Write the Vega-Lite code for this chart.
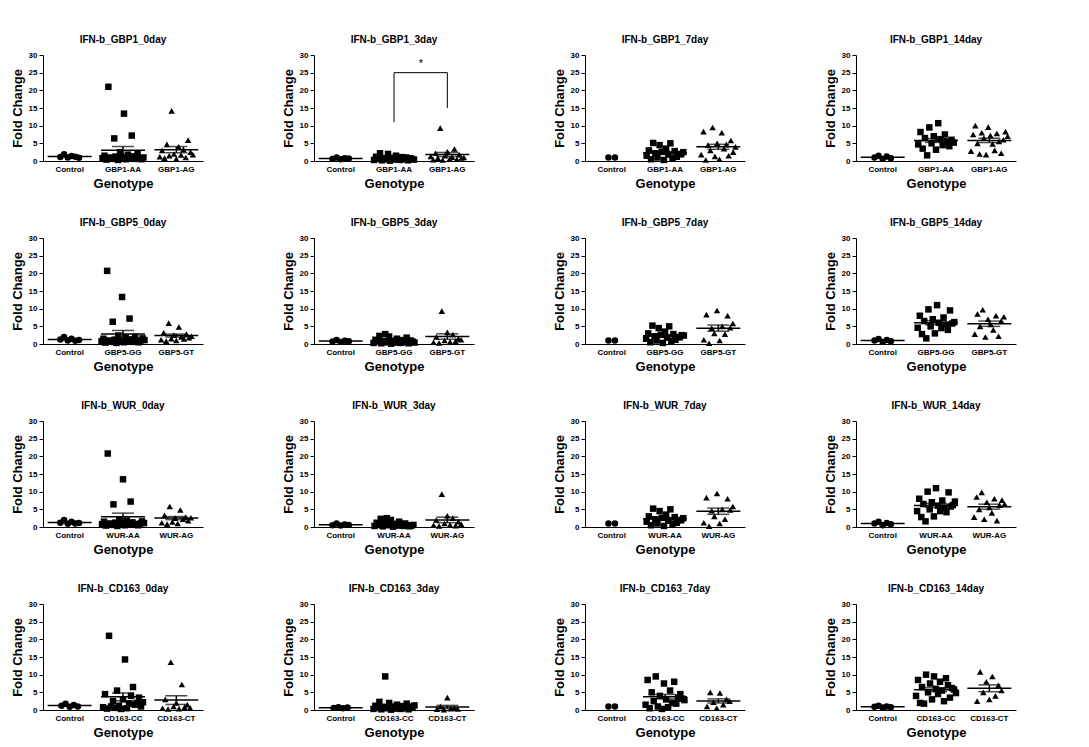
{
"$schema":"https://vega.github.io/schema/vega-lite/v6.json",
"background":"white",
"padding":{"left":11,"top":35,"right":5,"bottom":5},
"data":{"values":[
{"p":"IFN-b_GBP1_0day","g":"Control","o":0,"v":1.1},{"p":"IFN-b_GBP1_0day","g":"Control","o":0,"v":1.9},{"p":"IFN-b_GBP1_0day","g":"Control","o":0,"v":1.0},{"p":"IFN-b_GBP1_0day","g":"Control","o":0,"v":1.4},{"p":"IFN-b_GBP1_0day","g":"Control","o":0,"v":1.2},{"p":"IFN-b_GBP1_0day","g":"Control","o":0,"v":0.9},
{"p":"IFN-b_GBP1_0day","g":"GBP1-AA","o":1,"v":0.8},{"p":"IFN-b_GBP1_0day","g":"GBP1-AA","o":1,"v":1.5},{"p":"IFN-b_GBP1_0day","g":"GBP1-AA","o":1,"v":0.4},{"p":"IFN-b_GBP1_0day","g":"GBP1-AA","o":1,"v":21.0},{"p":"IFN-b_GBP1_0day","g":"GBP1-AA","o":1,"v":1.0},{"p":"IFN-b_GBP1_0day","g":"GBP1-AA","o":1,"v":0.6},{"p":"IFN-b_GBP1_0day","g":"GBP1-AA","o":1,"v":6.4},{"p":"IFN-b_GBP1_0day","g":"GBP1-AA","o":1,"v":1.2},{"p":"IFN-b_GBP1_0day","g":"GBP1-AA","o":1,"v":0.3},{"p":"IFN-b_GBP1_0day","g":"GBP1-AA","o":1,"v":2.5},{"p":"IFN-b_GBP1_0day","g":"GBP1-AA","o":1,"v":0.9},{"p":"IFN-b_GBP1_0day","g":"GBP1-AA","o":1,"v":13.4},{"p":"IFN-b_GBP1_0day","g":"GBP1-AA","o":1,"v":0.5},{"p":"IFN-b_GBP1_0day","g":"GBP1-AA","o":1,"v":1.8},{"p":"IFN-b_GBP1_0day","g":"GBP1-AA","o":1,"v":0.7},{"p":"IFN-b_GBP1_0day","g":"GBP1-AA","o":1,"v":7.2},{"p":"IFN-b_GBP1_0day","g":"GBP1-AA","o":1,"v":1.3},{"p":"IFN-b_GBP1_0day","g":"GBP1-AA","o":1,"v":0.6},{"p":"IFN-b_GBP1_0day","g":"GBP1-AA","o":1,"v":2.0},{"p":"IFN-b_GBP1_0day","g":"GBP1-AA","o":1,"v":0.8},{"p":"IFN-b_GBP1_0day","g":"GBP1-AA","o":1,"v":0.5},{"p":"IFN-b_GBP1_0day","g":"GBP1-AA","o":1,"v":1.0},
{"p":"IFN-b_GBP1_0day","g":"GBP1-AG","o":2,"v":1.2},{"p":"IFN-b_GBP1_0day","g":"GBP1-AG","o":2,"v":3.0},{"p":"IFN-b_GBP1_0day","g":"GBP1-AG","o":2,"v":0.8},{"p":"IFN-b_GBP1_0day","g":"GBP1-AG","o":2,"v":4.7},{"p":"IFN-b_GBP1_0day","g":"GBP1-AG","o":2,"v":1.5},{"p":"IFN-b_GBP1_0day","g":"GBP1-AG","o":2,"v":14.2},{"p":"IFN-b_GBP1_0day","g":"GBP1-AG","o":2,"v":2.0},{"p":"IFN-b_GBP1_0day","g":"GBP1-AG","o":2,"v":0.6},{"p":"IFN-b_GBP1_0day","g":"GBP1-AG","o":2,"v":4.0},{"p":"IFN-b_GBP1_0day","g":"GBP1-AG","o":2,"v":1.7},{"p":"IFN-b_GBP1_0day","g":"GBP1-AG","o":2,"v":3.3},{"p":"IFN-b_GBP1_0day","g":"GBP1-AG","o":2,"v":1.0},{"p":"IFN-b_GBP1_0day","g":"GBP1-AG","o":2,"v":5.9},{"p":"IFN-b_GBP1_0day","g":"GBP1-AG","o":2,"v":2.5},{"p":"IFN-b_GBP1_0day","g":"GBP1-AG","o":2,"v":1.8},

{"p":"IFN-b_GBP1_3day","g":"Control","o":0,"v":0.6},{"p":"IFN-b_GBP1_3day","g":"Control","o":0,"v":1.0},{"p":"IFN-b_GBP1_3day","g":"Control","o":0,"v":0.5},{"p":"IFN-b_GBP1_3day","g":"Control","o":0,"v":0.8},{"p":"IFN-b_GBP1_3day","g":"Control","o":0,"v":0.7},
{"p":"IFN-b_GBP1_3day","g":"GBP1-AA","o":1,"v":0.3},{"p":"IFN-b_GBP1_3day","g":"GBP1-AA","o":1,"v":1.2},{"p":"IFN-b_GBP1_3day","g":"GBP1-AA","o":1,"v":0.6},{"p":"IFN-b_GBP1_3day","g":"GBP1-AA","o":1,"v":2.2},{"p":"IFN-b_GBP1_3day","g":"GBP1-AA","o":1,"v":0.2},{"p":"IFN-b_GBP1_3day","g":"GBP1-AA","o":1,"v":0.8},{"p":"IFN-b_GBP1_3day","g":"GBP1-AA","o":1,"v":0.5},{"p":"IFN-b_GBP1_3day","g":"GBP1-AA","o":1,"v":2.0},{"p":"IFN-b_GBP1_3day","g":"GBP1-AA","o":1,"v":0.1},{"p":"IFN-b_GBP1_3day","g":"GBP1-AA","o":1,"v":0.9},{"p":"IFN-b_GBP1_3day","g":"GBP1-AA","o":1,"v":0.4},{"p":"IFN-b_GBP1_3day","g":"GBP1-AA","o":1,"v":1.5},{"p":"IFN-b_GBP1_3day","g":"GBP1-AA","o":1,"v":0.7},{"p":"IFN-b_GBP1_3day","g":"GBP1-AA","o":1,"v":0.3},{"p":"IFN-b_GBP1_3day","g":"GBP1-AA","o":1,"v":1.1},{"p":"IFN-b_GBP1_3day","g":"GBP1-AA","o":1,"v":0.5},{"p":"IFN-b_GBP1_3day","g":"GBP1-AA","o":1,"v":1.0},{"p":"IFN-b_GBP1_3day","g":"GBP1-AA","o":1,"v":0.2},{"p":"IFN-b_GBP1_3day","g":"GBP1-AA","o":1,"v":0.8},{"p":"IFN-b_GBP1_3day","g":"GBP1-AA","o":1,"v":0.6},{"p":"IFN-b_GBP1_3day","g":"GBP1-AA","o":1,"v":0.4},
{"p":"IFN-b_GBP1_3day","g":"GBP1-AG","o":2,"v":1.3},{"p":"IFN-b_GBP1_3day","g":"GBP1-AG","o":2,"v":0.4},{"p":"IFN-b_GBP1_3day","g":"GBP1-AG","o":2,"v":2.2},{"p":"IFN-b_GBP1_3day","g":"GBP1-AG","o":2,"v":0.8},{"p":"IFN-b_GBP1_3day","g":"GBP1-AG","o":2,"v":9.3},{"p":"IFN-b_GBP1_3day","g":"GBP1-AG","o":2,"v":0.3},{"p":"IFN-b_GBP1_3day","g":"GBP1-AG","o":2,"v":1.5},{"p":"IFN-b_GBP1_3day","g":"GBP1-AG","o":2,"v":2.6},{"p":"IFN-b_GBP1_3day","g":"GBP1-AG","o":2,"v":0.6},{"p":"IFN-b_GBP1_3day","g":"GBP1-AG","o":2,"v":1.1},{"p":"IFN-b_GBP1_3day","g":"GBP1-AG","o":2,"v":3.4},{"p":"IFN-b_GBP1_3day","g":"GBP1-AG","o":2,"v":0.5},{"p":"IFN-b_GBP1_3day","g":"GBP1-AG","o":2,"v":1.8},{"p":"IFN-b_GBP1_3day","g":"GBP1-AG","o":2,"v":0.9},{"p":"IFN-b_GBP1_3day","g":"GBP1-AG","o":2,"v":1.0},
{"p":"IFN-b_GBP1_3day","k":"br","g":"GBP1-AA","o":1,"lo":11,"hi":25},{"p":"IFN-b_GBP1_3day","k":"br","g":"GBP1-AG","o":2,"lo":15,"hi":25},{"p":"IFN-b_GBP1_3day","k":"bh","g":"GBP1-AA","g2":"GBP1-AG","o":1,"lo":25},{"p":"IFN-b_GBP1_3day","k":"st","g":"GBP1-AA","o":1,"lo":26,"t":"*"},

{"p":"IFN-b_GBP1_7day","g":"Control","o":0,"v":1.0},{"p":"IFN-b_GBP1_7day","g":"Control","o":0,"v":1.0},
{"p":"IFN-b_GBP1_7day","g":"GBP1-AA","o":1,"v":1.5},{"p":"IFN-b_GBP1_7day","g":"GBP1-AA","o":1,"v":3.0},{"p":"IFN-b_GBP1_7day","g":"GBP1-AA","o":1,"v":0.5},{"p":"IFN-b_GBP1_7day","g":"GBP1-AA","o":1,"v":5.1},{"p":"IFN-b_GBP1_7day","g":"GBP1-AA","o":1,"v":2.2},{"p":"IFN-b_GBP1_7day","g":"GBP1-AA","o":1,"v":1.0},{"p":"IFN-b_GBP1_7day","g":"GBP1-AA","o":1,"v":4.5},{"p":"IFN-b_GBP1_7day","g":"GBP1-AA","o":1,"v":2.6},{"p":"IFN-b_GBP1_7day","g":"GBP1-AA","o":1,"v":0.3},{"p":"IFN-b_GBP1_7day","g":"GBP1-AA","o":1,"v":3.5},{"p":"IFN-b_GBP1_7day","g":"GBP1-AA","o":1,"v":1.8},{"p":"IFN-b_GBP1_7day","g":"GBP1-AA","o":1,"v":5.0},{"p":"IFN-b_GBP1_7day","g":"GBP1-AA","o":1,"v":0.8},{"p":"IFN-b_GBP1_7day","g":"GBP1-AA","o":1,"v":2.8},{"p":"IFN-b_GBP1_7day","g":"GBP1-AA","o":1,"v":1.2},{"p":"IFN-b_GBP1_7day","g":"GBP1-AA","o":1,"v":2.0},{"p":"IFN-b_GBP1_7day","g":"GBP1-AA","o":1,"v":1.9},{"p":"IFN-b_GBP1_7day","g":"GBP1-AA","o":1,"v":2.5},
{"p":"IFN-b_GBP1_7day","g":"GBP1-AG","o":2,"v":1.8},{"p":"IFN-b_GBP1_7day","g":"GBP1-AG","o":2,"v":8.3},{"p":"IFN-b_GBP1_7day","g":"GBP1-AG","o":2,"v":0.3},{"p":"IFN-b_GBP1_7day","g":"GBP1-AG","o":2,"v":4.5},{"p":"IFN-b_GBP1_7day","g":"GBP1-AG","o":2,"v":3.0},{"p":"IFN-b_GBP1_7day","g":"GBP1-AG","o":2,"v":9.5},{"p":"IFN-b_GBP1_7day","g":"GBP1-AG","o":2,"v":1.3},{"p":"IFN-b_GBP1_7day","g":"GBP1-AG","o":2,"v":5.0},{"p":"IFN-b_GBP1_7day","g":"GBP1-AG","o":2,"v":0.5},{"p":"IFN-b_GBP1_7day","g":"GBP1-AG","o":2,"v":8.0},{"p":"IFN-b_GBP1_7day","g":"GBP1-AG","o":2,"v":3.5},{"p":"IFN-b_GBP1_7day","g":"GBP1-AG","o":2,"v":4.7},{"p":"IFN-b_GBP1_7day","g":"GBP1-AG","o":2,"v":1.5},{"p":"IFN-b_GBP1_7day","g":"GBP1-AG","o":2,"v":5.8},{"p":"IFN-b_GBP1_7day","g":"GBP1-AG","o":2,"v":2.5},{"p":"IFN-b_GBP1_7day","g":"GBP1-AG","o":2,"v":4.0},

{"p":"IFN-b_GBP1_14day","g":"Control","o":0,"v":1.0},{"p":"IFN-b_GBP1_14day","g":"Control","o":0,"v":1.5},{"p":"IFN-b_GBP1_14day","g":"Control","o":0,"v":0.6},{"p":"IFN-b_GBP1_14day","g":"Control","o":0,"v":1.3},{"p":"IFN-b_GBP1_14day","g":"Control","o":0,"v":0.8},
{"p":"IFN-b_GBP1_14day","g":"GBP1-AA","o":1,"v":4.7},{"p":"IFN-b_GBP1_14day","g":"GBP1-AA","o":1,"v":8.2},{"p":"IFN-b_GBP1_14day","g":"GBP1-AA","o":1,"v":3.5},{"p":"IFN-b_GBP1_14day","g":"GBP1-AA","o":1,"v":6.5},{"p":"IFN-b_GBP1_14day","g":"GBP1-AA","o":1,"v":1.6},{"p":"IFN-b_GBP1_14day","g":"GBP1-AA","o":1,"v":9.5},{"p":"IFN-b_GBP1_14day","g":"GBP1-AA","o":1,"v":5.0},{"p":"IFN-b_GBP1_14day","g":"GBP1-AA","o":1,"v":7.0},{"p":"IFN-b_GBP1_14day","g":"GBP1-AA","o":1,"v":3.2},{"p":"IFN-b_GBP1_14day","g":"GBP1-AA","o":1,"v":10.7},{"p":"IFN-b_GBP1_14day","g":"GBP1-AA","o":1,"v":6.2},{"p":"IFN-b_GBP1_14day","g":"GBP1-AA","o":1,"v":4.5},{"p":"IFN-b_GBP1_14day","g":"GBP1-AA","o":1,"v":7.5},{"p":"IFN-b_GBP1_14day","g":"GBP1-AA","o":1,"v":5.5},{"p":"IFN-b_GBP1_14day","g":"GBP1-AA","o":1,"v":4.2},{"p":"IFN-b_GBP1_14day","g":"GBP1-AA","o":1,"v":6.0},{"p":"IFN-b_GBP1_14day","g":"GBP1-AA","o":1,"v":5.2},
{"p":"IFN-b_GBP1_14day","g":"GBP1-AG","o":2,"v":2.8},{"p":"IFN-b_GBP1_14day","g":"GBP1-AG","o":2,"v":7.5},{"p":"IFN-b_GBP1_14day","g":"GBP1-AG","o":2,"v":10.0},{"p":"IFN-b_GBP1_14day","g":"GBP1-AG","o":2,"v":5.0},{"p":"IFN-b_GBP1_14day","g":"GBP1-AG","o":2,"v":2.0},{"p":"IFN-b_GBP1_14day","g":"GBP1-AG","o":2,"v":8.0},{"p":"IFN-b_GBP1_14day","g":"GBP1-AG","o":2,"v":6.5},{"p":"IFN-b_GBP1_14day","g":"GBP1-AG","o":2,"v":1.8},{"p":"IFN-b_GBP1_14day","g":"GBP1-AG","o":2,"v":9.6},{"p":"IFN-b_GBP1_14day","g":"GBP1-AG","o":2,"v":7.2},{"p":"IFN-b_GBP1_14day","g":"GBP1-AG","o":2,"v":4.8},{"p":"IFN-b_GBP1_14day","g":"GBP1-AG","o":2,"v":3.0},{"p":"IFN-b_GBP1_14day","g":"GBP1-AG","o":2,"v":7.8},{"p":"IFN-b_GBP1_14day","g":"GBP1-AG","o":2,"v":5.5},{"p":"IFN-b_GBP1_14day","g":"GBP1-AG","o":2,"v":2.2},{"p":"IFN-b_GBP1_14day","g":"GBP1-AG","o":2,"v":6.0},{"p":"IFN-b_GBP1_14day","g":"GBP1-AG","o":2,"v":8.3},{"p":"IFN-b_GBP1_14day","g":"GBP1-AG","o":2,"v":7.0},

{"p":"IFN-b_GBP5_0day","g":"Control","o":0,"v":1.3},{"p":"IFN-b_GBP5_0day","g":"Control","o":0,"v":2.0},{"p":"IFN-b_GBP5_0day","g":"Control","o":0,"v":1.0},{"p":"IFN-b_GBP5_0day","g":"Control","o":0,"v":1.5},{"p":"IFN-b_GBP5_0day","g":"Control","o":0,"v":0.9},{"p":"IFN-b_GBP5_0day","g":"Control","o":0,"v":1.1},
{"p":"IFN-b_GBP5_0day","g":"GBP5-GG","o":1,"v":0.8},{"p":"IFN-b_GBP5_0day","g":"GBP5-GG","o":1,"v":1.5},{"p":"IFN-b_GBP5_0day","g":"GBP5-GG","o":1,"v":0.4},{"p":"IFN-b_GBP5_0day","g":"GBP5-GG","o":1,"v":20.7},{"p":"IFN-b_GBP5_0day","g":"GBP5-GG","o":1,"v":1.0},{"p":"IFN-b_GBP5_0day","g":"GBP5-GG","o":1,"v":0.6},{"p":"IFN-b_GBP5_0day","g":"GBP5-GG","o":1,"v":6.3},{"p":"IFN-b_GBP5_0day","g":"GBP5-GG","o":1,"v":1.2},{"p":"IFN-b_GBP5_0day","g":"GBP5-GG","o":1,"v":0.3},{"p":"IFN-b_GBP5_0day","g":"GBP5-GG","o":1,"v":2.4},{"p":"IFN-b_GBP5_0day","g":"GBP5-GG","o":1,"v":0.9},{"p":"IFN-b_GBP5_0day","g":"GBP5-GG","o":1,"v":13.3},{"p":"IFN-b_GBP5_0day","g":"GBP5-GG","o":1,"v":0.5},{"p":"IFN-b_GBP5_0day","g":"GBP5-GG","o":1,"v":1.8},{"p":"IFN-b_GBP5_0day","g":"GBP5-GG","o":1,"v":0.7},{"p":"IFN-b_GBP5_0day","g":"GBP5-GG","o":1,"v":7.2},{"p":"IFN-b_GBP5_0day","g":"GBP5-GG","o":1,"v":1.3},{"p":"IFN-b_GBP5_0day","g":"GBP5-GG","o":1,"v":0.6},{"p":"IFN-b_GBP5_0day","g":"GBP5-GG","o":1,"v":2.0},{"p":"IFN-b_GBP5_0day","g":"GBP5-GG","o":1,"v":0.8},{"p":"IFN-b_GBP5_0day","g":"GBP5-GG","o":1,"v":0.5},{"p":"IFN-b_GBP5_0day","g":"GBP5-GG","o":1,"v":1.0},{"p":"IFN-b_GBP5_0day","g":"GBP5-GG","o":1,"v":1.6},{"p":"IFN-b_GBP5_0day","g":"GBP5-GG","o":1,"v":1.1},
{"p":"IFN-b_GBP5_0day","g":"GBP5-GT","o":2,"v":1.2},{"p":"IFN-b_GBP5_0day","g":"GBP5-GT","o":2,"v":3.2},{"p":"IFN-b_GBP5_0day","g":"GBP5-GT","o":2,"v":0.8},{"p":"IFN-b_GBP5_0day","g":"GBP5-GT","o":2,"v":5.9},{"p":"IFN-b_GBP5_0day","g":"GBP5-GT","o":2,"v":1.5},{"p":"IFN-b_GBP5_0day","g":"GBP5-GT","o":2,"v":2.5},{"p":"IFN-b_GBP5_0day","g":"GBP5-GT","o":2,"v":1.0},{"p":"IFN-b_GBP5_0day","g":"GBP5-GT","o":2,"v":4.8},{"p":"IFN-b_GBP5_0day","g":"GBP5-GT","o":2,"v":2.0},{"p":"IFN-b_GBP5_0day","g":"GBP5-GT","o":2,"v":1.4},{"p":"IFN-b_GBP5_0day","g":"GBP5-GT","o":2,"v":2.8},{"p":"IFN-b_GBP5_0day","g":"GBP5-GT","o":2,"v":1.8},{"p":"IFN-b_GBP5_0day","g":"GBP5-GT","o":2,"v":2.2},

{"p":"IFN-b_GBP5_3day","g":"Control","o":0,"v":0.7},{"p":"IFN-b_GBP5_3day","g":"Control","o":0,"v":1.1},{"p":"IFN-b_GBP5_3day","g":"Control","o":0,"v":0.6},{"p":"IFN-b_GBP5_3day","g":"Control","o":0,"v":0.9},{"p":"IFN-b_GBP5_3day","g":"Control","o":0,"v":0.8},
{"p":"IFN-b_GBP5_3day","g":"GBP5-GG","o":1,"v":0.3},{"p":"IFN-b_GBP5_3day","g":"GBP5-GG","o":1,"v":1.2},{"p":"IFN-b_GBP5_3day","g":"GBP5-GG","o":1,"v":0.6},{"p":"IFN-b_GBP5_3day","g":"GBP5-GG","o":1,"v":2.3},{"p":"IFN-b_GBP5_3day","g":"GBP5-GG","o":1,"v":0.2},{"p":"IFN-b_GBP5_3day","g":"GBP5-GG","o":1,"v":0.8},{"p":"IFN-b_GBP5_3day","g":"GBP5-GG","o":1,"v":2.8},{"p":"IFN-b_GBP5_3day","g":"GBP5-GG","o":1,"v":0.5},{"p":"IFN-b_GBP5_3day","g":"GBP5-GG","o":1,"v":2.1},{"p":"IFN-b_GBP5_3day","g":"GBP5-GG","o":1,"v":0.1},{"p":"IFN-b_GBP5_3day","g":"GBP5-GG","o":1,"v":0.9},{"p":"IFN-b_GBP5_3day","g":"GBP5-GG","o":1,"v":0.4},{"p":"IFN-b_GBP5_3day","g":"GBP5-GG","o":1,"v":1.5},{"p":"IFN-b_GBP5_3day","g":"GBP5-GG","o":1,"v":0.7},{"p":"IFN-b_GBP5_3day","g":"GBP5-GG","o":1,"v":0.3},{"p":"IFN-b_GBP5_3day","g":"GBP5-GG","o":1,"v":1.1},{"p":"IFN-b_GBP5_3day","g":"GBP5-GG","o":1,"v":0.5},{"p":"IFN-b_GBP5_3day","g":"GBP5-GG","o":1,"v":1.8},{"p":"IFN-b_GBP5_3day","g":"GBP5-GG","o":1,"v":0.2},{"p":"IFN-b_GBP5_3day","g":"GBP5-GG","o":1,"v":1.0},{"p":"IFN-b_GBP5_3day","g":"GBP5-GG","o":1,"v":0.7},{"p":"IFN-b_GBP5_3day","g":"GBP5-GG","o":1,"v":0.4},
{"p":"IFN-b_GBP5_3day","g":"GBP5-GT","o":2,"v":0.5},{"p":"IFN-b_GBP5_3day","g":"GBP5-GT","o":2,"v":2.0},{"p":"IFN-b_GBP5_3day","g":"GBP5-GT","o":2,"v":0.3},{"p":"IFN-b_GBP5_3day","g":"GBP5-GT","o":2,"v":9.3},{"p":"IFN-b_GBP5_3day","g":"GBP5-GT","o":2,"v":1.0},{"p":"IFN-b_GBP5_3day","g":"GBP5-GT","o":2,"v":3.3},{"p":"IFN-b_GBP5_3day","g":"GBP5-GT","o":2,"v":0.6},{"p":"IFN-b_GBP5_3day","g":"GBP5-GT","o":2,"v":2.7},{"p":"IFN-b_GBP5_3day","g":"GBP5-GT","o":2,"v":0.8},{"p":"IFN-b_GBP5_3day","g":"GBP5-GT","o":2,"v":1.5},{"p":"IFN-b_GBP5_3day","g":"GBP5-GT","o":2,"v":1.2},

{"p":"IFN-b_GBP5_7day","g":"Control","o":0,"v":1.0},{"p":"IFN-b_GBP5_7day","g":"Control","o":0,"v":1.0},
{"p":"IFN-b_GBP5_7day","g":"GBP5-GG","o":1,"v":1.5},{"p":"IFN-b_GBP5_7day","g":"GBP5-GG","o":1,"v":3.0},{"p":"IFN-b_GBP5_7day","g":"GBP5-GG","o":1,"v":0.5},{"p":"IFN-b_GBP5_7day","g":"GBP5-GG","o":1,"v":5.2},{"p":"IFN-b_GBP5_7day","g":"GBP5-GG","o":1,"v":2.2},{"p":"IFN-b_GBP5_7day","g":"GBP5-GG","o":1,"v":1.0},{"p":"IFN-b_GBP5_7day","g":"GBP5-GG","o":1,"v":4.5},{"p":"IFN-b_GBP5_7day","g":"GBP5-GG","o":1,"v":2.6},{"p":"IFN-b_GBP5_7day","g":"GBP5-GG","o":1,"v":0.3},{"p":"IFN-b_GBP5_7day","g":"GBP5-GG","o":1,"v":3.5},{"p":"IFN-b_GBP5_7day","g":"GBP5-GG","o":1,"v":1.8},{"p":"IFN-b_GBP5_7day","g":"GBP5-GG","o":1,"v":5.0},{"p":"IFN-b_GBP5_7day","g":"GBP5-GG","o":1,"v":0.8},{"p":"IFN-b_GBP5_7day","g":"GBP5-GG","o":1,"v":2.8},{"p":"IFN-b_GBP5_7day","g":"GBP5-GG","o":1,"v":1.2},{"p":"IFN-b_GBP5_7day","g":"GBP5-GG","o":1,"v":2.0},{"p":"IFN-b_GBP5_7day","g":"GBP5-GG","o":1,"v":1.9},{"p":"IFN-b_GBP5_7day","g":"GBP5-GG","o":1,"v":2.5},{"p":"IFN-b_GBP5_7day","g":"GBP5-GG","o":1,"v":2.4},
{"p":"IFN-b_GBP5_7day","g":"GBP5-GT","o":2,"v":1.2},{"p":"IFN-b_GBP5_7day","g":"GBP5-GT","o":2,"v":8.3},{"p":"IFN-b_GBP5_7day","g":"GBP5-GT","o":2,"v":0.2},{"p":"IFN-b_GBP5_7day","g":"GBP5-GT","o":2,"v":4.5},{"p":"IFN-b_GBP5_7day","g":"GBP5-GT","o":2,"v":3.0},{"p":"IFN-b_GBP5_7day","g":"GBP5-GT","o":2,"v":9.5},{"p":"IFN-b_GBP5_7day","g":"GBP5-GT","o":2,"v":1.0},{"p":"IFN-b_GBP5_7day","g":"GBP5-GT","o":2,"v":5.0},{"p":"IFN-b_GBP5_7day","g":"GBP5-GT","o":2,"v":2.8},{"p":"IFN-b_GBP5_7day","g":"GBP5-GT","o":2,"v":8.0},{"p":"IFN-b_GBP5_7day","g":"GBP5-GT","o":2,"v":4.6},{"p":"IFN-b_GBP5_7day","g":"GBP5-GT","o":2,"v":5.8},

{"p":"IFN-b_GBP5_14day","g":"Control","o":0,"v":1.0},{"p":"IFN-b_GBP5_14day","g":"Control","o":0,"v":1.4},{"p":"IFN-b_GBP5_14day","g":"Control","o":0,"v":0.6},{"p":"IFN-b_GBP5_14day","g":"Control","o":0,"v":1.1},{"p":"IFN-b_GBP5_14day","g":"Control","o":0,"v":0.8},
{"p":"IFN-b_GBP5_14day","g":"GBP5-GG","o":1,"v":4.6},{"p":"IFN-b_GBP5_14day","g":"GBP5-GG","o":1,"v":8.0},{"p":"IFN-b_GBP5_14day","g":"GBP5-GG","o":1,"v":2.8},{"p":"IFN-b_GBP5_14day","g":"GBP5-GG","o":1,"v":6.5},{"p":"IFN-b_GBP5_14day","g":"GBP5-GG","o":1,"v":1.6},{"p":"IFN-b_GBP5_14day","g":"GBP5-GG","o":1,"v":9.8},{"p":"IFN-b_GBP5_14day","g":"GBP5-GG","o":1,"v":5.0},{"p":"IFN-b_GBP5_14day","g":"GBP5-GG","o":1,"v":7.0},{"p":"IFN-b_GBP5_14day","g":"GBP5-GG","o":1,"v":3.0},{"p":"IFN-b_GBP5_14day","g":"GBP5-GG","o":1,"v":11.0},{"p":"IFN-b_GBP5_14day","g":"GBP5-GG","o":1,"v":6.0},{"p":"IFN-b_GBP5_14day","g":"GBP5-GG","o":1,"v":4.5},{"p":"IFN-b_GBP5_14day","g":"GBP5-GG","o":1,"v":7.5},{"p":"IFN-b_GBP5_14day","g":"GBP5-GG","o":1,"v":5.5},{"p":"IFN-b_GBP5_14day","g":"GBP5-GG","o":1,"v":4.0},{"p":"IFN-b_GBP5_14day","g":"GBP5-GG","o":1,"v":9.5},{"p":"IFN-b_GBP5_14day","g":"GBP5-GG","o":1,"v":5.8},{"p":"IFN-b_GBP5_14day","g":"GBP5-GG","o":1,"v":6.2},
{"p":"IFN-b_GBP5_14day","g":"GBP5-GT","o":2,"v":2.8},{"p":"IFN-b_GBP5_14day","g":"GBP5-GT","o":2,"v":8.5},{"p":"IFN-b_GBP5_14day","g":"GBP5-GT","o":2,"v":5.0},{"p":"IFN-b_GBP5_14day","g":"GBP5-GT","o":2,"v":9.7},{"p":"IFN-b_GBP5_14day","g":"GBP5-GT","o":2,"v":2.0},{"p":"IFN-b_GBP5_14day","g":"GBP5-GT","o":2,"v":7.0},{"p":"IFN-b_GBP5_14day","g":"GBP5-GT","o":2,"v":5.5},{"p":"IFN-b_GBP5_14day","g":"GBP5-GT","o":2,"v":4.0},{"p":"IFN-b_GBP5_14day","g":"GBP5-GT","o":2,"v":8.0},{"p":"IFN-b_GBP5_14day","g":"GBP5-GT","o":2,"v":2.2},{"p":"IFN-b_GBP5_14day","g":"GBP5-GT","o":2,"v":6.5},{"p":"IFN-b_GBP5_14day","g":"GBP5-GT","o":2,"v":7.7},

{"p":"IFN-b_WUR_0day","g":"Control","o":0,"v":1.2},{"p":"IFN-b_WUR_0day","g":"Control","o":0,"v":2.0},{"p":"IFN-b_WUR_0day","g":"Control","o":0,"v":0.9},{"p":"IFN-b_WUR_0day","g":"Control","o":0,"v":1.5},{"p":"IFN-b_WUR_0day","g":"Control","o":0,"v":1.0},{"p":"IFN-b_WUR_0day","g":"Control","o":0,"v":1.1},
{"p":"IFN-b_WUR_0day","g":"WUR-AA","o":1,"v":0.8},{"p":"IFN-b_WUR_0day","g":"WUR-AA","o":1,"v":1.5},{"p":"IFN-b_WUR_0day","g":"WUR-AA","o":1,"v":0.4},{"p":"IFN-b_WUR_0day","g":"WUR-AA","o":1,"v":20.8},{"p":"IFN-b_WUR_0day","g":"WUR-AA","o":1,"v":1.0},{"p":"IFN-b_WUR_0day","g":"WUR-AA","o":1,"v":0.6},{"p":"IFN-b_WUR_0day","g":"WUR-AA","o":1,"v":6.4},{"p":"IFN-b_WUR_0day","g":"WUR-AA","o":1,"v":1.2},{"p":"IFN-b_WUR_0day","g":"WUR-AA","o":1,"v":0.3},{"p":"IFN-b_WUR_0day","g":"WUR-AA","o":1,"v":2.0},{"p":"IFN-b_WUR_0day","g":"WUR-AA","o":1,"v":0.9},{"p":"IFN-b_WUR_0day","g":"WUR-AA","o":1,"v":13.5},{"p":"IFN-b_WUR_0day","g":"WUR-AA","o":1,"v":0.5},{"p":"IFN-b_WUR_0day","g":"WUR-AA","o":1,"v":1.8},{"p":"IFN-b_WUR_0day","g":"WUR-AA","o":1,"v":0.7},{"p":"IFN-b_WUR_0day","g":"WUR-AA","o":1,"v":7.2},{"p":"IFN-b_WUR_0day","g":"WUR-AA","o":1,"v":1.3},{"p":"IFN-b_WUR_0day","g":"WUR-AA","o":1,"v":0.6},{"p":"IFN-b_WUR_0day","g":"WUR-AA","o":1,"v":0.8},{"p":"IFN-b_WUR_0day","g":"WUR-AA","o":1,"v":0.5},{"p":"IFN-b_WUR_0day","g":"WUR-AA","o":1,"v":1.0},{"p":"IFN-b_WUR_0day","g":"WUR-AA","o":1,"v":1.6},{"p":"IFN-b_WUR_0day","g":"WUR-AA","o":1,"v":1.1},
{"p":"IFN-b_WUR_0day","g":"WUR-AG","o":2,"v":1.2},{"p":"IFN-b_WUR_0day","g":"WUR-AG","o":2,"v":3.3},{"p":"IFN-b_WUR_0day","g":"WUR-AG","o":2,"v":0.8},{"p":"IFN-b_WUR_0day","g":"WUR-AG","o":2,"v":5.8},{"p":"IFN-b_WUR_0day","g":"WUR-AG","o":2,"v":1.4},{"p":"IFN-b_WUR_0day","g":"WUR-AG","o":2,"v":2.5},{"p":"IFN-b_WUR_0day","g":"WUR-AG","o":2,"v":1.0},{"p":"IFN-b_WUR_0day","g":"WUR-AG","o":2,"v":4.8},{"p":"IFN-b_WUR_0day","g":"WUR-AG","o":2,"v":2.2},{"p":"IFN-b_WUR_0day","g":"WUR-AG","o":2,"v":2.8},{"p":"IFN-b_WUR_0day","g":"WUR-AG","o":2,"v":1.8},{"p":"IFN-b_WUR_0day","g":"WUR-AG","o":2,"v":2.6},

{"p":"IFN-b_WUR_3day","g":"Control","o":0,"v":0.5},{"p":"IFN-b_WUR_3day","g":"Control","o":0,"v":1.0},{"p":"IFN-b_WUR_3day","g":"Control","o":0,"v":0.4},{"p":"IFN-b_WUR_3day","g":"Control","o":0,"v":0.7},{"p":"IFN-b_WUR_3day","g":"Control","o":0,"v":0.6},
{"p":"IFN-b_WUR_3day","g":"WUR-AA","o":1,"v":0.3},{"p":"IFN-b_WUR_3day","g":"WUR-AA","o":1,"v":1.2},{"p":"IFN-b_WUR_3day","g":"WUR-AA","o":1,"v":0.6},{"p":"IFN-b_WUR_3day","g":"WUR-AA","o":1,"v":2.3},{"p":"IFN-b_WUR_3day","g":"WUR-AA","o":1,"v":0.2},{"p":"IFN-b_WUR_3day","g":"WUR-AA","o":1,"v":0.8},{"p":"IFN-b_WUR_3day","g":"WUR-AA","o":1,"v":2.5},{"p":"IFN-b_WUR_3day","g":"WUR-AA","o":1,"v":0.5},{"p":"IFN-b_WUR_3day","g":"WUR-AA","o":1,"v":2.0},{"p":"IFN-b_WUR_3day","g":"WUR-AA","o":1,"v":0.1},{"p":"IFN-b_WUR_3day","g":"WUR-AA","o":1,"v":0.9},{"p":"IFN-b_WUR_3day","g":"WUR-AA","o":1,"v":0.4},{"p":"IFN-b_WUR_3day","g":"WUR-AA","o":1,"v":1.5},{"p":"IFN-b_WUR_3day","g":"WUR-AA","o":1,"v":0.7},{"p":"IFN-b_WUR_3day","g":"WUR-AA","o":1,"v":0.3},{"p":"IFN-b_WUR_3day","g":"WUR-AA","o":1,"v":1.0},{"p":"IFN-b_WUR_3day","g":"WUR-AA","o":1,"v":0.5},{"p":"IFN-b_WUR_3day","g":"WUR-AA","o":1,"v":0.2},{"p":"IFN-b_WUR_3day","g":"WUR-AA","o":1,"v":0.4},{"p":"IFN-b_WUR_3day","g":"WUR-AA","o":1,"v":0.6},
{"p":"IFN-b_WUR_3day","g":"WUR-AG","o":2,"v":0.5},{"p":"IFN-b_WUR_3day","g":"WUR-AG","o":2,"v":2.0},{"p":"IFN-b_WUR_3day","g":"WUR-AG","o":2,"v":0.3},{"p":"IFN-b_WUR_3day","g":"WUR-AG","o":2,"v":9.3},{"p":"IFN-b_WUR_3day","g":"WUR-AG","o":2,"v":1.0},{"p":"IFN-b_WUR_3day","g":"WUR-AG","o":2,"v":3.2},{"p":"IFN-b_WUR_3day","g":"WUR-AG","o":2,"v":0.6},{"p":"IFN-b_WUR_3day","g":"WUR-AG","o":2,"v":2.5},{"p":"IFN-b_WUR_3day","g":"WUR-AG","o":2,"v":0.4},{"p":"IFN-b_WUR_3day","g":"WUR-AG","o":2,"v":1.5},{"p":"IFN-b_WUR_3day","g":"WUR-AG","o":2,"v":0.8},

{"p":"IFN-b_WUR_7day","g":"Control","o":0,"v":1.0},{"p":"IFN-b_WUR_7day","g":"Control","o":0,"v":1.0},
{"p":"IFN-b_WUR_7day","g":"WUR-AA","o":1,"v":1.5},{"p":"IFN-b_WUR_7day","g":"WUR-AA","o":1,"v":3.0},{"p":"IFN-b_WUR_7day","g":"WUR-AA","o":1,"v":0.5},{"p":"IFN-b_WUR_7day","g":"WUR-AA","o":1,"v":5.2},{"p":"IFN-b_WUR_7day","g":"WUR-AA","o":1,"v":2.2},{"p":"IFN-b_WUR_7day","g":"WUR-AA","o":1,"v":1.0},{"p":"IFN-b_WUR_7day","g":"WUR-AA","o":1,"v":4.5},{"p":"IFN-b_WUR_7day","g":"WUR-AA","o":1,"v":2.6},{"p":"IFN-b_WUR_7day","g":"WUR-AA","o":1,"v":0.3},{"p":"IFN-b_WUR_7day","g":"WUR-AA","o":1,"v":3.5},{"p":"IFN-b_WUR_7day","g":"WUR-AA","o":1,"v":1.8},{"p":"IFN-b_WUR_7day","g":"WUR-AA","o":1,"v":5.0},{"p":"IFN-b_WUR_7day","g":"WUR-AA","o":1,"v":0.8},{"p":"IFN-b_WUR_7day","g":"WUR-AA","o":1,"v":2.8},{"p":"IFN-b_WUR_7day","g":"WUR-AA","o":1,"v":1.2},{"p":"IFN-b_WUR_7day","g":"WUR-AA","o":1,"v":2.0},{"p":"IFN-b_WUR_7day","g":"WUR-AA","o":1,"v":1.9},{"p":"IFN-b_WUR_7day","g":"WUR-AA","o":1,"v":2.5},
{"p":"IFN-b_WUR_7day","g":"WUR-AG","o":2,"v":1.2},{"p":"IFN-b_WUR_7day","g":"WUR-AG","o":2,"v":8.3},{"p":"IFN-b_WUR_7day","g":"WUR-AG","o":2,"v":0.2},{"p":"IFN-b_WUR_7day","g":"WUR-AG","o":2,"v":4.6},{"p":"IFN-b_WUR_7day","g":"WUR-AG","o":2,"v":3.0},{"p":"IFN-b_WUR_7day","g":"WUR-AG","o":2,"v":9.5},{"p":"IFN-b_WUR_7day","g":"WUR-AG","o":2,"v":1.0},{"p":"IFN-b_WUR_7day","g":"WUR-AG","o":2,"v":5.0},{"p":"IFN-b_WUR_7day","g":"WUR-AG","o":2,"v":2.2},{"p":"IFN-b_WUR_7day","g":"WUR-AG","o":2,"v":8.0},{"p":"IFN-b_WUR_7day","g":"WUR-AG","o":2,"v":4.8},{"p":"IFN-b_WUR_7day","g":"WUR-AG","o":2,"v":5.8},

{"p":"IFN-b_WUR_14day","g":"Control","o":0,"v":1.0},{"p":"IFN-b_WUR_14day","g":"Control","o":0,"v":1.5},{"p":"IFN-b_WUR_14day","g":"Control","o":0,"v":0.5},{"p":"IFN-b_WUR_14day","g":"Control","o":0,"v":1.1},{"p":"IFN-b_WUR_14day","g":"Control","o":0,"v":0.8},
{"p":"IFN-b_WUR_14day","g":"WUR-AA","o":1,"v":4.5},{"p":"IFN-b_WUR_14day","g":"WUR-AA","o":1,"v":8.0},{"p":"IFN-b_WUR_14day","g":"WUR-AA","o":1,"v":2.8},{"p":"IFN-b_WUR_14day","g":"WUR-AA","o":1,"v":6.5},{"p":"IFN-b_WUR_14day","g":"WUR-AA","o":1,"v":1.6},{"p":"IFN-b_WUR_14day","g":"WUR-AA","o":1,"v":10.0},{"p":"IFN-b_WUR_14day","g":"WUR-AA","o":1,"v":5.0},{"p":"IFN-b_WUR_14day","g":"WUR-AA","o":1,"v":7.0},{"p":"IFN-b_WUR_14day","g":"WUR-AA","o":1,"v":3.0},{"p":"IFN-b_WUR_14day","g":"WUR-AA","o":1,"v":11.0},{"p":"IFN-b_WUR_14day","g":"WUR-AA","o":1,"v":6.0},{"p":"IFN-b_WUR_14day","g":"WUR-AA","o":1,"v":4.5},{"p":"IFN-b_WUR_14day","g":"WUR-AA","o":1,"v":7.5},{"p":"IFN-b_WUR_14day","g":"WUR-AA","o":1,"v":5.5},{"p":"IFN-b_WUR_14day","g":"WUR-AA","o":1,"v":4.2},{"p":"IFN-b_WUR_14day","g":"WUR-AA","o":1,"v":9.8},{"p":"IFN-b_WUR_14day","g":"WUR-AA","o":1,"v":5.8},{"p":"IFN-b_WUR_14day","g":"WUR-AA","o":1,"v":6.2},{"p":"IFN-b_WUR_14day","g":"WUR-AA","o":1,"v":7.2},
{"p":"IFN-b_WUR_14day","g":"WUR-AG","o":2,"v":2.8},{"p":"IFN-b_WUR_14day","g":"WUR-AG","o":2,"v":8.5},{"p":"IFN-b_WUR_14day","g":"WUR-AG","o":2,"v":5.0},{"p":"IFN-b_WUR_14day","g":"WUR-AG","o":2,"v":9.8},{"p":"IFN-b_WUR_14day","g":"WUR-AG","o":2,"v":2.2},{"p":"IFN-b_WUR_14day","g":"WUR-AG","o":2,"v":7.0},{"p":"IFN-b_WUR_14day","g":"WUR-AG","o":2,"v":5.5},{"p":"IFN-b_WUR_14day","g":"WUR-AG","o":2,"v":4.0},{"p":"IFN-b_WUR_14day","g":"WUR-AG","o":2,"v":8.0},{"p":"IFN-b_WUR_14day","g":"WUR-AG","o":2,"v":1.8},{"p":"IFN-b_WUR_14day","g":"WUR-AG","o":2,"v":6.2},{"p":"IFN-b_WUR_14day","g":"WUR-AG","o":2,"v":7.6},{"p":"IFN-b_WUR_14day","g":"WUR-AG","o":2,"v":6.5},

{"p":"IFN-b_CD163_0day","g":"Control","o":0,"v":1.2},{"p":"IFN-b_CD163_0day","g":"Control","o":0,"v":1.8},{"p":"IFN-b_CD163_0day","g":"Control","o":0,"v":0.9},{"p":"IFN-b_CD163_0day","g":"Control","o":0,"v":1.4},{"p":"IFN-b_CD163_0day","g":"Control","o":0,"v":1.0},
{"p":"IFN-b_CD163_0day","g":"CD163-CC","o":1,"v":0.8},{"p":"IFN-b_CD163_0day","g":"CD163-CC","o":1,"v":4.5},{"p":"IFN-b_CD163_0day","g":"CD163-CC","o":1,"v":0.4},{"p":"IFN-b_CD163_0day","g":"CD163-CC","o":1,"v":21.0},{"p":"IFN-b_CD163_0day","g":"CD163-CC","o":1,"v":1.0},{"p":"IFN-b_CD163_0day","g":"CD163-CC","o":1,"v":2.5},{"p":"IFN-b_CD163_0day","g":"CD163-CC","o":1,"v":0.6},{"p":"IFN-b_CD163_0day","g":"CD163-CC","o":1,"v":5.5},{"p":"IFN-b_CD163_0day","g":"CD163-CC","o":1,"v":1.2},{"p":"IFN-b_CD163_0day","g":"CD163-CC","o":1,"v":0.3},{"p":"IFN-b_CD163_0day","g":"CD163-CC","o":1,"v":3.0},{"p":"IFN-b_CD163_0day","g":"CD163-CC","o":1,"v":14.3},{"p":"IFN-b_CD163_0day","g":"CD163-CC","o":1,"v":0.5},{"p":"IFN-b_CD163_0day","g":"CD163-CC","o":1,"v":1.8},{"p":"IFN-b_CD163_0day","g":"CD163-CC","o":1,"v":4.0},{"p":"IFN-b_CD163_0day","g":"CD163-CC","o":1,"v":6.5},{"p":"IFN-b_CD163_0day","g":"CD163-CC","o":1,"v":1.5},{"p":"IFN-b_CD163_0day","g":"CD163-CC","o":1,"v":2.0},{"p":"IFN-b_CD163_0day","g":"CD163-CC","o":1,"v":3.5},{"p":"IFN-b_CD163_0day","g":"CD163-CC","o":1,"v":1.0},{"p":"IFN-b_CD163_0day","g":"CD163-CC","o":1,"v":2.2},
{"p":"IFN-b_CD163_0day","g":"CD163-CT","o":2,"v":0.5},{"p":"IFN-b_CD163_0day","g":"CD163-CT","o":2,"v":3.0},{"p":"IFN-b_CD163_0day","g":"CD163-CT","o":2,"v":0.3},{"p":"IFN-b_CD163_0day","g":"CD163-CT","o":2,"v":13.5},{"p":"IFN-b_CD163_0day","g":"CD163-CT","o":2,"v":1.0},{"p":"IFN-b_CD163_0day","g":"CD163-CT","o":2,"v":2.0},{"p":"IFN-b_CD163_0day","g":"CD163-CT","o":2,"v":0.4},{"p":"IFN-b_CD163_0day","g":"CD163-CT","o":2,"v":7.2},{"p":"IFN-b_CD163_0day","g":"CD163-CT","o":2,"v":0.8},{"p":"IFN-b_CD163_0day","g":"CD163-CT","o":2,"v":1.5},{"p":"IFN-b_CD163_0day","g":"CD163-CT","o":2,"v":0.6},

{"p":"IFN-b_CD163_3day","g":"Control","o":0,"v":0.6},{"p":"IFN-b_CD163_3day","g":"Control","o":0,"v":0.8},{"p":"IFN-b_CD163_3day","g":"Control","o":0,"v":0.5},{"p":"IFN-b_CD163_3day","g":"Control","o":0,"v":0.7},
{"p":"IFN-b_CD163_3day","g":"CD163-CC","o":1,"v":0.3},{"p":"IFN-b_CD163_3day","g":"CD163-CC","o":1,"v":1.2},{"p":"IFN-b_CD163_3day","g":"CD163-CC","o":1,"v":0.6},{"p":"IFN-b_CD163_3day","g":"CD163-CC","o":1,"v":2.3},{"p":"IFN-b_CD163_3day","g":"CD163-CC","o":1,"v":0.2},{"p":"IFN-b_CD163_3day","g":"CD163-CC","o":1,"v":0.8},{"p":"IFN-b_CD163_3day","g":"CD163-CC","o":1,"v":9.5},{"p":"IFN-b_CD163_3day","g":"CD163-CC","o":1,"v":0.5},{"p":"IFN-b_CD163_3day","g":"CD163-CC","o":1,"v":2.0},{"p":"IFN-b_CD163_3day","g":"CD163-CC","o":1,"v":0.1},{"p":"IFN-b_CD163_3day","g":"CD163-CC","o":1,"v":0.9},{"p":"IFN-b_CD163_3day","g":"CD163-CC","o":1,"v":0.4},{"p":"IFN-b_CD163_3day","g":"CD163-CC","o":1,"v":1.5},{"p":"IFN-b_CD163_3day","g":"CD163-CC","o":1,"v":0.7},{"p":"IFN-b_CD163_3day","g":"CD163-CC","o":1,"v":0.3},{"p":"IFN-b_CD163_3day","g":"CD163-CC","o":1,"v":1.1},{"p":"IFN-b_CD163_3day","g":"CD163-CC","o":1,"v":0.5},{"p":"IFN-b_CD163_3day","g":"CD163-CC","o":1,"v":1.8},{"p":"IFN-b_CD163_3day","g":"CD163-CC","o":1,"v":0.2},{"p":"IFN-b_CD163_3day","g":"CD163-CC","o":1,"v":1.0},{"p":"IFN-b_CD163_3day","g":"CD163-CC","o":1,"v":0.6},{"p":"IFN-b_CD163_3day","g":"CD163-CC","o":1,"v":1.3},
{"p":"IFN-b_CD163_3day","g":"CD163-CT","o":2,"v":0.2},{"p":"IFN-b_CD163_3day","g":"CD163-CT","o":2,"v":1.0},{"p":"IFN-b_CD163_3day","g":"CD163-CT","o":2,"v":0.1},{"p":"IFN-b_CD163_3day","g":"CD163-CT","o":2,"v":3.5},{"p":"IFN-b_CD163_3day","g":"CD163-CT","o":2,"v":0.4},{"p":"IFN-b_CD163_3day","g":"CD163-CT","o":2,"v":0.5},{"p":"IFN-b_CD163_3day","g":"CD163-CT","o":2,"v":0.3},

{"p":"IFN-b_CD163_7day","g":"Control","o":0,"v":1.0},{"p":"IFN-b_CD163_7day","g":"Control","o":0,"v":1.0},
{"p":"IFN-b_CD163_7day","g":"CD163-CC","o":1,"v":1.5},{"p":"IFN-b_CD163_7day","g":"CD163-CC","o":1,"v":8.5},{"p":"IFN-b_CD163_7day","g":"CD163-CC","o":1,"v":0.5},{"p":"IFN-b_CD163_7day","g":"CD163-CC","o":1,"v":5.0},{"p":"IFN-b_CD163_7day","g":"CD163-CC","o":1,"v":2.5},{"p":"IFN-b_CD163_7day","g":"CD163-CC","o":1,"v":9.5},{"p":"IFN-b_CD163_7day","g":"CD163-CC","o":1,"v":1.0},{"p":"IFN-b_CD163_7day","g":"CD163-CC","o":1,"v":4.0},{"p":"IFN-b_CD163_7day","g":"CD163-CC","o":1,"v":0.3},{"p":"IFN-b_CD163_7day","g":"CD163-CC","o":1,"v":7.5},{"p":"IFN-b_CD163_7day","g":"CD163-CC","o":1,"v":3.0},{"p":"IFN-b_CD163_7day","g":"CD163-CC","o":1,"v":0.8},{"p":"IFN-b_CD163_7day","g":"CD163-CC","o":1,"v":5.5},{"p":"IFN-b_CD163_7day","g":"CD163-CC","o":1,"v":2.0},{"p":"IFN-b_CD163_7day","g":"CD163-CC","o":1,"v":8.0},{"p":"IFN-b_CD163_7day","g":"CD163-CC","o":1,"v":1.8},{"p":"IFN-b_CD163_7day","g":"CD163-CC","o":1,"v":3.5},{"p":"IFN-b_CD163_7day","g":"CD163-CC","o":1,"v":4.5},{"p":"IFN-b_CD163_7day","g":"CD163-CC","o":1,"v":3.2},{"p":"IFN-b_CD163_7day","g":"CD163-CC","o":1,"v":2.8},
{"p":"IFN-b_CD163_7day","g":"CD163-CT","o":2,"v":1.0},{"p":"IFN-b_CD163_7day","g":"CD163-CT","o":2,"v":5.0},{"p":"IFN-b_CD163_7day","g":"CD163-CT","o":2,"v":2.2},{"p":"IFN-b_CD163_7day","g":"CD163-CT","o":2,"v":0.5},{"p":"IFN-b_CD163_7day","g":"CD163-CT","o":2,"v":4.8},{"p":"IFN-b_CD163_7day","g":"CD163-CT","o":2,"v":1.5},{"p":"IFN-b_CD163_7day","g":"CD163-CT","o":2,"v":3.0},{"p":"IFN-b_CD163_7day","g":"CD163-CT","o":2,"v":2.5},

{"p":"IFN-b_CD163_14day","g":"Control","o":0,"v":0.9},{"p":"IFN-b_CD163_14day","g":"Control","o":0,"v":1.2},{"p":"IFN-b_CD163_14day","g":"Control","o":0,"v":0.7},{"p":"IFN-b_CD163_14day","g":"Control","o":0,"v":1.0},{"p":"IFN-b_CD163_14day","g":"Control","o":0,"v":0.8},
{"p":"IFN-b_CD163_14day","g":"CD163-CC","o":1,"v":4.0},{"p":"IFN-b_CD163_14day","g":"CD163-CC","o":1,"v":8.5},{"p":"IFN-b_CD163_14day","g":"CD163-CC","o":1,"v":2.0},{"p":"IFN-b_CD163_14day","g":"CD163-CC","o":1,"v":6.5},{"p":"IFN-b_CD163_14day","g":"CD163-CC","o":1,"v":1.8},{"p":"IFN-b_CD163_14day","g":"CD163-CC","o":1,"v":10.0},{"p":"IFN-b_CD163_14day","g":"CD163-CC","o":1,"v":5.0},{"p":"IFN-b_CD163_14day","g":"CD163-CC","o":1,"v":7.5},{"p":"IFN-b_CD163_14day","g":"CD163-CC","o":1,"v":3.0},{"p":"IFN-b_CD163_14day","g":"CD163-CC","o":1,"v":9.5},{"p":"IFN-b_CD163_14day","g":"CD163-CC","o":1,"v":6.0},{"p":"IFN-b_CD163_14day","g":"CD163-CC","o":1,"v":4.5},{"p":"IFN-b_CD163_14day","g":"CD163-CC","o":1,"v":8.0},{"p":"IFN-b_CD163_14day","g":"CD163-CC","o":1,"v":5.5},{"p":"IFN-b_CD163_14day","g":"CD163-CC","o":1,"v":2.5},{"p":"IFN-b_CD163_14day","g":"CD163-CC","o":1,"v":9.0},{"p":"IFN-b_CD163_14day","g":"CD163-CC","o":1,"v":7.0},{"p":"IFN-b_CD163_14day","g":"CD163-CC","o":1,"v":3.5},{"p":"IFN-b_CD163_14day","g":"CD163-CC","o":1,"v":6.2},{"p":"IFN-b_CD163_14day","g":"CD163-CC","o":1,"v":5.8},{"p":"IFN-b_CD163_14day","g":"CD163-CC","o":1,"v":4.8},
{"p":"IFN-b_CD163_14day","g":"CD163-CT","o":2,"v":2.5},{"p":"IFN-b_CD163_14day","g":"CD163-CT","o":2,"v":10.8},{"p":"IFN-b_CD163_14day","g":"CD163-CT","o":2,"v":5.0},{"p":"IFN-b_CD163_14day","g":"CD163-CT","o":2,"v":8.0},{"p":"IFN-b_CD163_14day","g":"CD163-CT","o":2,"v":3.0},{"p":"IFN-b_CD163_14day","g":"CD163-CT","o":2,"v":9.5},{"p":"IFN-b_CD163_14day","g":"CD163-CT","o":2,"v":4.0},{"p":"IFN-b_CD163_14day","g":"CD163-CT","o":2,"v":7.0},{"p":"IFN-b_CD163_14day","g":"CD163-CT","o":2,"v":5.5}
]},
"transform":[
{"window":[{"op":"row_number","as":"rn"}],"groupby":["p","g","k"]},
{"joinaggregate":[{"op":"count","as":"n"}],"groupby":["p","g","k"]},
{"calculate":"(datum.rn - (datum.n + 1) / 2) / sqrt(datum.n)","as":"jx"}
],
"columns":4,
"facet":{"field":"p","type":"nominal",
"sort":["IFN-b_GBP1_0day","IFN-b_GBP1_3day","IFN-b_GBP1_7day","IFN-b_GBP1_14day","IFN-b_GBP5_0day","IFN-b_GBP5_3day","IFN-b_GBP5_7day","IFN-b_GBP5_14day","IFN-b_WUR_0day","IFN-b_WUR_3day","IFN-b_WUR_7day","IFN-b_WUR_14day","IFN-b_CD163_0day","IFN-b_CD163_3day","IFN-b_CD163_7day","IFN-b_CD163_14day"],
"header":{"title":null,"labelFont":"Liberation Sans","labelFontSize":10,"labelFontWeight":"bold","labelColor":"black","labelPadding":6}},
"spacing":{"row":28,"column":79},
"resolve":{"scale":{"x":"independent","xOffset":"independent"},"axis":{"x":"independent","y":"independent"}},
"spec":{
"width":160,"height":106,
"layer":[
{"transform":[{"filter":"!datum.k"}],
 "mark":{"type":"point","filled":true,"opacity":1,"color":"black","size":42},
 "encoding":{
  "x":{"field":"g","type":"nominal","sort":{"field":"o","op":"min"},"title":"Genotype","scale":{"paddingInner":0.28,"paddingOuter":0.14}},
  "xOffset":{"field":"jx","type":"quantitative","scale":{"domain":[-2.1,2.1]}},
  "y":{"field":"v","type":"quantitative","title":"Fold Change","scale":{"domain":[0,30],"nice":false},"axis":{"values":[0,5,10,15,20,25,30]}},
  "shape":{"field":"o","type":"nominal","scale":{"domain":[0,1,2],"range":["circle","square","triangle-up"]},"legend":null}
 }},
{"transform":[{"filter":"!datum.k && !(indexof(datum.p,'7day') >= 0 && datum.o == 0)"}],
 "mark":{"type":"tick","color":"black","thickness":1.5,"size":44},
 "encoding":{
  "x":{"field":"g","type":"nominal","sort":{"field":"o","op":"min"},"title":"Genotype"},
  "y":{"aggregate":"mean","field":"v","type":"quantitative","title":"Fold Change","axis":{"values":[0,5,10,15,20,25,30]}}
 }},
{"transform":[{"filter":"!datum.k && !(indexof(datum.p,'7day') >= 0 && datum.o == 0)"}],
 "mark":{"type":"errorbar","extent":"stderr","color":"black","thickness":1.5,"ticks":{"size":22,"thickness":1.5,"color":"black"}},
 "encoding":{
  "x":{"field":"g","type":"nominal","sort":{"field":"o","op":"min"},"title":"Genotype"},
  "y":{"field":"v","type":"quantitative","title":"Fold Change","axis":{"values":[0,5,10,15,20,25,30]}}
 }},
{"transform":[{"filter":"datum.k == 'br'"}],
 "mark":{"type":"rule","color":"black","strokeWidth":1},
 "encoding":{
  "x":{"field":"g","type":"nominal","sort":{"field":"o","op":"min"},"title":"Genotype"},
  "y":{"field":"lo","type":"quantitative","title":"Fold Change","axis":{"values":[0,5,10,15,20,25,30]}},
  "y2":{"field":"hi"}
 }},
{"transform":[{"filter":"datum.k == 'bh'"}],
 "mark":{"type":"rule","color":"black","strokeWidth":1},
 "encoding":{
  "x":{"field":"g","type":"nominal","sort":{"field":"o","op":"min"},"title":"Genotype"},
  "x2":{"field":"g2"},
  "y":{"field":"lo","type":"quantitative","title":"Fold Change","axis":{"values":[0,5,10,15,20,25,30]}}
 }},
{"transform":[{"filter":"datum.k == 'st'"}],
 "mark":{"type":"text","color":"black","fontSize":11,"font":"Liberation Sans","dx":27,"baseline":"bottom"},
 "encoding":{
  "x":{"field":"g","type":"nominal","sort":{"field":"o","op":"min"},"title":"Genotype"},
  "y":{"field":"lo","type":"quantitative","title":"Fold Change","axis":{"values":[0,5,10,15,20,25,30]}},
  "text":{"field":"t"}
 }}
]},
"config":{
 "view":{"stroke":null},
 "font":"Liberation Sans",
 "axis":{"grid":false,"domainColor":"black","domainWidth":1,"tickColor":"black","labelColor":"black","titleColor":"black","labelFont":"Liberation Sans","titleFont":"Liberation Sans","labelFontWeight":"bold","titleFontWeight":"bold","labelFontSize":8,"titleFontSize":13},
 "axisX":{"ticks":false,"labelAngle":0,"labelPadding":4,"titlePadding":4},
 "axisY":{"tickSize":4,"labelPadding":2,"titlePadding":4}
}
}
